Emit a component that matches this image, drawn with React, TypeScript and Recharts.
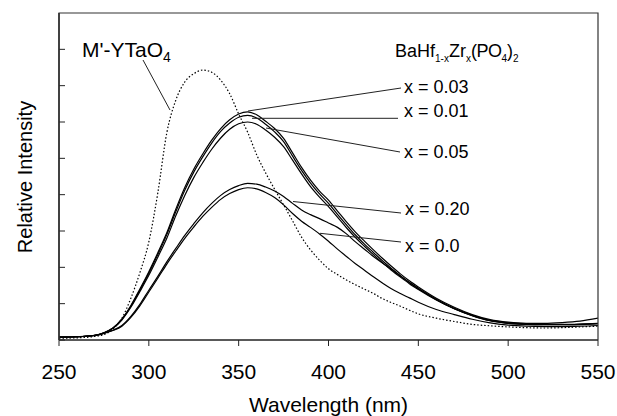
import React from 'react';
import { LineChart, Line, XAxis, YAxis } from 'recharts';

const wavelengths = [250, 260, 270, 275, 280, 285, 290, 295, 300, 305, 310, 315, 320, 325, 330, 335, 340, 345, 350, 355, 360, 365, 370, 375, 380, 385, 390, 395, 400, 405, 410, 415, 420, 425, 430, 435, 440, 445, 450, 460, 470, 480, 490, 500, 510, 520, 530, 540, 550];

const yTaO4 = [0.05, 0.06, 0.1, 0.15, 0.3, 0.6, 1.15, 1.85, 2.7, 4.05, 5.7, 6.6, 7.1, 7.33, 7.43, 7.37, 7.15, 6.78, 6.22, 5.72, 5.1, 4.6, 4.15, 3.72, 3.28, 2.83, 2.48, 2.2, 1.96, 1.8, 1.65, 1.52, 1.4, 1.28, 1.14, 1.03, 0.93, 0.82, 0.72, 0.6, 0.51, 0.43, 0.39, 0.36, 0.34, 0.33, 0.34, 0.36, 0.38];

const x003 = [0.08, 0.09, 0.13, 0.2, 0.33, 0.58, 0.95, 1.4, 1.88, 2.4, 2.95, 3.6, 4.2, 4.7, 5.12, 5.5, 5.82, 6.06, 6.22, 6.28, 6.2, 6.02, 5.82, 5.55, 5.15, 4.75, 4.4, 4.1, 3.85, 3.55, 3.25, 2.97, 2.72, 2.48, 2.25, 2.03, 1.82, 1.63, 1.46, 1.15, 0.9, 0.7, 0.56, 0.49, 0.46, 0.46, 0.48, 0.52, 0.6];

const x001 = [0.08, 0.09, 0.13, 0.2, 0.33, 0.57, 0.93, 1.37, 1.84, 2.35, 2.9, 3.53, 4.12, 4.62, 5.04, 5.42, 5.74, 5.97, 6.13, 6.18, 6.11, 5.94, 5.73, 5.46, 5.06, 4.67, 4.32, 4.02, 3.76, 3.46, 3.17, 2.89, 2.64, 2.41, 2.18, 1.97, 1.77, 1.58, 1.42, 1.12, 0.87, 0.68, 0.54, 0.47, 0.44, 0.43, 0.43, 0.44, 0.46];

const x005 = [0.08, 0.09, 0.13, 0.19, 0.32, 0.55, 0.9, 1.33, 1.78, 2.28, 2.8, 3.42, 3.98, 4.47, 4.88, 5.25, 5.56, 5.8, 5.95, 6.0, 5.94, 5.78, 5.58, 5.32, 4.95, 4.57, 4.22, 3.93, 3.67, 3.38, 3.09, 2.82, 2.58, 2.35, 2.13, 1.92, 1.73, 1.55, 1.39, 1.1, 0.86, 0.67, 0.53, 0.46, 0.43, 0.42, 0.42, 0.43, 0.45];

const x020 = [0.08, 0.09, 0.13, 0.19, 0.27, 0.4, 0.65, 0.98, 1.37, 1.75, 2.15, 2.52, 2.88, 3.2, 3.5, 3.76, 3.98, 4.14, 4.25, 4.31, 4.29, 4.21, 4.1, 3.95, 3.76, 3.58, 3.45, 3.34, 3.22, 3.1, 2.92, 2.7, 2.5, 2.3, 2.12, 1.95, 1.76, 1.58, 1.42, 1.11, 0.86, 0.67, 0.53, 0.46, 0.43, 0.42, 0.42, 0.43, 0.45];

const x000 = [0.08, 0.09, 0.12, 0.18, 0.26, 0.38, 0.62, 0.94, 1.32, 1.7, 2.09, 2.45, 2.8, 3.11, 3.4, 3.65, 3.87, 4.03, 4.14, 4.19, 4.16, 4.06, 3.92, 3.72, 3.48, 3.27, 3.1, 2.92, 2.72, 2.5, 2.3, 2.1, 1.92, 1.74, 1.57, 1.41, 1.28, 1.16, 1.04, 0.84, 0.7, 0.57, 0.47, 0.41, 0.38, 0.37, 0.37, 0.38, 0.4];

const xTicks = [250, 300, 350, 400, 450, 500, 550];
const yTicks = [0, 1, 2, 3, 4, 5, 6, 7, 8];

const data = wavelengths.map((w, i) => ({
  w,
  ytao: yTaO4[i],
  a: x003[i],
  b: x001[i],
  c: x005[i],
  e: x020[i],
  f: x000[i],
}));

const FONT = '"Liberation Sans", Arial, Helvetica, sans-serif';

export default function App() {
  const solid = { stroke: '#000', strokeWidth: 1.2, dot: false, isAnimationActive: false, type: 'monotone' as const };
  return (
    <div style={{ position: 'absolute', left: 0, top: 0, width: 617, height: 416, background: '#fff' }}>
      <LineChart width={617} height={416} data={data} margin={{ top: 13, right: 19, bottom: 0, left: 0 }}>
        <XAxis
          dataKey="w"
          type="number"
          domain={[250, 550]}
          ticks={xTicks}
          allowDataOverflow
          height={76}
          tickSize={6}
          tickMargin={18}
          stroke="#222"
          strokeWidth={1.5}
          tickLine={{ stroke: '#222', strokeWidth: 1 }}
          tick={{ fontSize: 21, fill: '#000', fontFamily: FONT }}
        />
        <YAxis
          type="number"
          domain={[0, 9]}
          ticks={yTicks}
          width={59}
          tickSize={-6}
          tickFormatter={() => ''}
          stroke="#222"
          strokeWidth={1.5}
          tickLine={{ stroke: '#222', strokeWidth: 1 }}
        />
        <Line dataKey="ytao" {...solid} strokeDasharray="1.5 2" />
        <Line dataKey="a" {...solid} />
        <Line dataKey="b" {...solid} />
        <Line dataKey="c" {...solid} />
        <Line dataKey="e" {...solid} />
        <Line dataKey="f" {...solid} />
      </LineChart>
      <svg width={617} height={416} style={{ position: 'absolute', left: 0, top: 0, pointerEvents: 'none' }} fontFamily={FONT}>
        <polyline points="59,340 59,13 598,13 598,340" fill="none" stroke="#333" strokeWidth={1.2} />
        <g stroke="#222" strokeWidth={1}>
          <line x1={143} y1={60} x2={170} y2={110} />
          <line x1={248} y1={111} x2={401} y2={88} />
          <line x1={252} y1={118.3} x2={398} y2={118.3} />
          <line x1={266} y1={128} x2={400} y2={152} />
          <line x1={293} y1={201.5} x2={401} y2={213} />
          <line x1={320} y1={233.3} x2={401} y2={242} />
        </g>
        <text x={82} y={56.7} fontSize={21} fill="#000">
          M'-YTaO<tspan fontSize={14} dy={5}>4</tspan>
        </text>
        <text x={395} y={56.7} fontSize={18} fill="#000">
          BaHf<tspan fontSize={10} dy={5}>1-x</tspan>
          <tspan dy={-5}>Zr</tspan>
          <tspan fontSize={10} dy={5}>x</tspan>
          <tspan dy={-5} letterSpacing={-0.5}>(PO</tspan>
          <tspan fontSize={10} dy={5}>4</tspan>
          <tspan dy={-5}>)</tspan>
          <tspan fontSize={10} dy={5}>2</tspan>
        </text>
        <g fontSize={18} fill="#000">
          <text x={404} y={93.3}>x = 0.03</text>
          <text x={404} y={116.7}>x = 0.01</text>
          <text x={404} y={158.3}>x = 0.05</text>
          <text x={405} y={215}>x = 0.20</text>
          <text x={405} y={251.7}>x = 0.0</text>
        </g>
        <text x={328.5} y={411.5} fontSize={21} fill="#000" textAnchor="middle">Wavelength (nm)</text>
        <text x={31.5} y={177} fontSize={20} fill="#000" textAnchor="middle" transform="rotate(-90 31.5 177)">Relative Intensity</text>
      </svg>
    </div>
  );
}
